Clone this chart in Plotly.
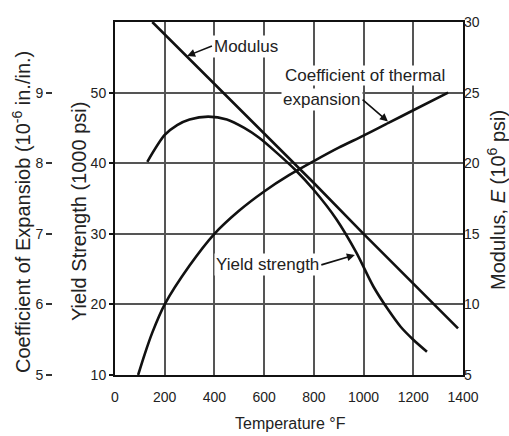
import plotly.graph_objects as go

# ---- data ----
temp_modulus = [150, 400, 600, 800, 1000, 1200, 1380]
modulus = [30.0, 25.6, 22.1, 18.6, 15.0, 11.5, 8.3]

temp_expansion = [93, 120, 150, 200, 300, 400, 500, 600, 700, 800, 900, 1000, 1100, 1200, 1340]
expansion = [5.0, 5.3, 5.6, 6.0, 6.55, 7.0, 7.33, 7.6, 7.83, 8.03, 8.22, 8.39, 8.57, 8.75, 9.0]

temp_yield = [130, 200, 250, 300, 375, 450, 520, 580, 650, 730, 800, 890, 970, 1040, 1100, 1150, 1200, 1255]
yield_strength = [40.2, 44.0, 45.4, 46.2, 46.6, 46.2, 45.0, 43.6, 41.5, 38.9, 36.2, 32.1, 27.4, 22.5, 19.2, 16.8, 15.0, 13.3]

x_ticks = [0, 200, 400, 600, 800, 1000, 1200, 1400]
yield_ticks = [10, 20, 30, 40, 50]
modulus_ticks = [5, 10, 15, 20, 25, 30]
expansion_ticks = [5, 6, 7, 8, 9]

LINE = "#111111"
GRID = "#555555"
TXT = "#222222"
SANS = "Liberation Sans, Arial, Helvetica, sans-serif"
TICKFONT = dict(family=SANS, size=14, color=TXT)
LABELFONT = dict(family=SANS, size=17, color=TXT)

W, H = 509, 436
ML, MR, MT, MB = 0, 46, 22, 61
PW = W - ML - MR          # paper width in px
PH = H - MT - MB          # paper height in px
PLOT_LEFT = 115           # left edge of the framed plot area (px)


def px_x(px):
    return (px - ML) / PW


def px_y(py):
    return (H - MB - py) / PH


fig = go.Figure()
fig.add_trace(go.Scatter(x=temp_yield, y=yield_strength, mode="lines",
                         line=dict(color=LINE, width=2.6, shape="spline", smoothing=0.8),
                         yaxis="y", showlegend=False, hoverinfo="skip"))
fig.add_trace(go.Scatter(x=temp_modulus, y=modulus, mode="lines",
                         line=dict(color=LINE, width=2.6),
                         yaxis="y2", showlegend=False, hoverinfo="skip"))
fig.add_trace(go.Scatter(x=temp_expansion, y=expansion, mode="lines",
                         line=dict(color=LINE, width=2.6, shape="spline", smoothing=0.8),
                         yaxis="y3", showlegend=False, hoverinfo="skip"))

ARROW = dict(showarrow=True, arrowhead=2, arrowsize=1, arrowwidth=1.6, arrowcolor=LINE,
             bgcolor="white", borderpad=1, font=LABELFONT, yanchor="middle")

annotations = [
    # axis titles
    dict(text="Coefficient of Expansiob (10<sup>-6</sup> in./in.)", xref="paper", yref="paper",
         x=px_x(22), y=px_y(212), xanchor="center", yanchor="middle", textangle=-90, showarrow=False,
         font=dict(family=SANS, size=20, color=TXT)),
    dict(text="Yield Strength (1000 psi)", xref="paper", yref="paper",
         x=px_x(79), y=px_y(212), xanchor="center", yanchor="middle", textangle=-90, showarrow=False,
         font=dict(family=SANS, size=20, color=TXT)),
    dict(text="Modulus, <i>E</i> (10<sup>6</sup> psi)", xref="paper", yref="paper",
         x=px_x(496), y=px_y(200), xanchor="center", yanchor="middle", textangle=-90, showarrow=False,
         font=dict(family=SANS, size=20, color=TXT)),
    dict(text="Temperature °F", xref="paper", yref="paper",
         x=px_x(290), y=px_y(424), xanchor="center", yanchor="middle", showarrow=False,
         font=dict(family=SANS, size=16, color=TXT)),
    # curve labels with leader arrows (tail at the text edge, head on the curve)
    dict(ARROW, text="Modulus", xref="x", yref="y2", x=290, y=27.6,
         ax=390, ay=28.3, axref="x", ayref="y2", xanchor="left"),
    dict(text="Coefficient of thermal", xref="x", yref="y", x=680, y=52.4,
         xanchor="left", yanchor="middle", showarrow=False, bgcolor="white",
         borderpad=0, font=LABELFONT),
    dict(ARROW, text="expansion", xref="x", yref="y", x=1098, y=45.9,
         ax=996, ay=49.0, axref="x", ayref="y", xanchor="right"),
    dict(ARROW, text="Yield strength", xref="x", yref="y", x=965, y=27.0,
         ax=830, ay=25.6, axref="x", ayref="y", xanchor="right"),
]

fig.update_layout(
    width=W, height=H,
    margin=dict(l=ML, r=MR, t=MT, b=MB, autoexpand=False),
    paper_bgcolor="white", plot_bgcolor="white",
    font=dict(family=SANS, size=14, color=TXT),
    xaxis=dict(domain=[px_x(PLOT_LEFT), 1], range=[0, 1400], tickvals=x_ticks,
               showgrid=True, gridcolor=GRID, gridwidth=1.6,
               showline=True, linecolor=LINE, linewidth=2, mirror=True, ticks="",
               ticklabelstandoff=8, zeroline=False, automargin=False, tickfont=TICKFONT),
    yaxis=dict(range=[10, 60], tickvals=yield_ticks, showgrid=True, gridcolor=GRID, gridwidth=1.6,
               showline=True, linecolor=LINE, linewidth=2, mirror=True, ticks="outside", ticklen=4,
               tickcolor=LINE, tickwidth=1.5, zeroline=False, automargin=False, tickfont=TICKFONT),
    yaxis2=dict(range=[5, 30], tickvals=modulus_ticks, overlaying="y", side="right", showgrid=False,
                zeroline=False, ticks="", automargin=False, tickfont=TICKFONT),
    yaxis3=dict(range=[5, 10], tickvals=expansion_ticks, overlaying="y", side="left",
                anchor="free", position=px_x(52), showline=False, showgrid=False, zeroline=False,
                ticks="outside", ticklen=6, tickwidth=1.5, tickcolor="#333333",
                automargin=False, tickfont=TICKFONT),
    annotations=annotations,
)

fig.write_html("out.html", config={"displayModeBar": False},
               post_script="document.body.style.margin='0';document.body.style.overflow='hidden';")
